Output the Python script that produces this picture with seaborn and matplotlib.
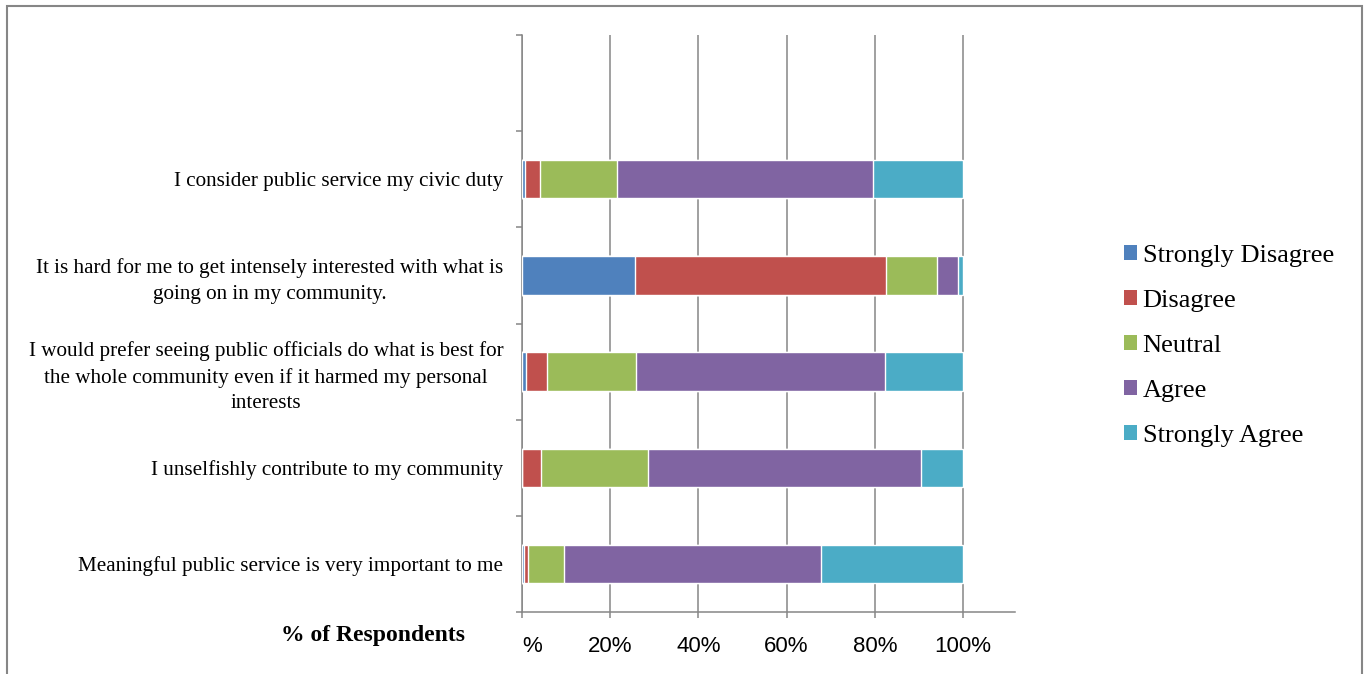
import numpy as np
import pandas as pd
import matplotlib
matplotlib.use("Agg")
import matplotlib.pyplot as plt
from matplotlib.patches import Patch, Rectangle
import seaborn as sns

# Survey statements (top to bottom) and response shares in percent
statements = [
    "I consider public service my civic duty",
    "It is hard for me to get intensely interested with what is\ngoing on in my community.",
    "I would prefer seeing public officials do what is best for\nthe whole community even if it harmed my personal\ninterests",
    "I unselfishly contribute to my community",
    "Meaningful public service is very important to me",
]
levels = ["Strongly Disagree", "Disagree", "Neutral", "Agree", "Strongly Agree"]
strongly_disagree = [0.6, 25.6, 1.0, 0.0, 0.5]
disagree = [3.5, 56.9, 4.6, 4.2, 0.8]
neutral = [17.5, 11.7, 20.3, 24.4, 8.3]
agree = [58.0, 4.7, 56.4, 61.8, 58.1]
strongly_agree = [20.4, 1.1, 17.7, 9.6, 32.3]
xtick_labels = ["%", "20%", "40%", "60%", "80%", "100%"]

colors = ["#4F81BD", "#C0504D", "#9BBB59", "#8064A2", "#4BACC6"]
grey = "#868686"

sns.set_theme(style="white")
plt.rcParams["font.family"] = ["Liberation Serif", "DejaVu Serif"]
plt.rcParams["text.color"] = "black"
plt.rcParams["xtick.labelcolor"] = "black"
plt.rcParams["ytick.labelcolor"] = "black"

shares = np.array([strongly_disagree, disagree, neutral, agree, strongly_agree]) / 100.0
cum = np.cumsum(shares, axis=0)

fig = plt.figure(figsize=(13.70, 6.74), dpi=100)
ax = fig.add_axes([522 / 1370, 1 - 612 / 674, (1015 - 522) / 1370, (612 - 35) / 674])

# an empty slot sits above the first statement
order = [""] + statements

# stacked bars: draw cumulative totals from the right-most level down
for i in reversed(range(len(levels))):
    df = pd.DataFrame({"statement": statements, "value": cum[i]})
    sns.barplot(data=df, x="value", y="statement", order=order, color=colors[i],
                width=0.4, orient="h", saturation=1, ax=ax, zorder=3)

ax.set_xlim(0, 1.118)
ax.set_ylim(5.5, -0.5)
ax.set_xlabel("")
ax.set_ylabel("")

ax.set_xticks(np.linspace(0, 1, 6))
ax.set_xticklabels(xtick_labels, fontsize=16, family=["Liberation Sans", "DejaVu Sans"],
                   color="black")
xl = ax.get_xticklabels()
xl[0].set_horizontalalignment("left")

ax.set_yticks(range(len(order)))
ax.set_yticklabels(order, fontsize=15.25, color="black", multialignment="center",
                   linespacing=1.45)
ax.set_yticks(np.arange(-0.5, 6.0, 1.0), minor=True)

ax.tick_params(axis="y", which="major", length=0, pad=13.5)
ax.tick_params(axis="y", which="minor", left=True, length=4.5, width=1.1, color=grey)
ax.tick_params(axis="x", which="major", bottom=True, length=4.5, width=1.1, color=grey, pad=13)

ax.grid(axis="x", color=grey, linewidth=1.1, zorder=0)
ax.grid(axis="y", visible=False)
ax.set_axisbelow(True)

for side in ["top", "right"]:
    ax.spines[side].set_visible(False)
for side in ["left", "bottom"]:
    ax.spines[side].set_color(grey)
    ax.spines[side].set_linewidth(1.1)

fig.text(373 / 1370, 1 - 635 / 674, "% of Respondents", ha="center", va="center",
         fontsize=17, fontweight="bold", color="black")

handles = [Patch(facecolor=c, edgecolor="none", label=l) for c, l in zip(colors, levels)]
fig.legend(handles=handles, loc="center left", bbox_to_anchor=(1111 / 1370, 1 - 346 / 674),
           frameon=False, fontsize=19, handlelength=0.5, handleheight=0.5,
           handletextpad=0.2, labelspacing=0.87, borderpad=0, labelcolor="black")

fig.add_artist(Rectangle((7 / 1370, -0.05), (1362 - 7) / 1370, 1.05 - 6 / 674,
                         transform=fig.transFigure, fill=False, edgecolor=grey, linewidth=1.5))

fig.savefig("out.png", dpi=100)
